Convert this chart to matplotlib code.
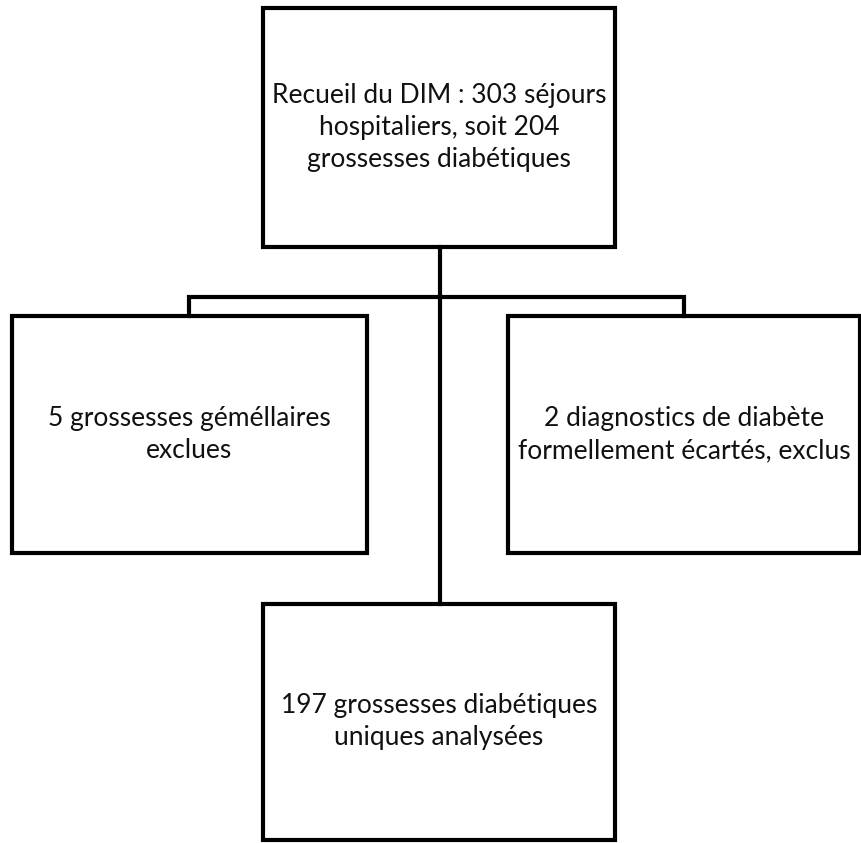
import matplotlib.pyplot as plt
from matplotlib.patches import Rectangle

# box texts
labels = [
    "Recueil du DIM : 303 séjours\nhospitaliers, soit 204\ngrossesses diabétiques",
    "5 grossesses géméllaires\nexclues",
    "2 diagnostics de diabète\nformellement écartés, exclus",
    "197 grossesses diabétiques\nuniques analysées",
]

# layout in pixels: (x0, y0, x1, y1), y measured from top
boxes = [
    (263, 8, 615, 247),
    (12, 316, 367, 553),
    (508, 316, 860, 553),
    (263, 604, 615, 840),
]

W, H = 862, 843
LW = 3.0
plt.rcParams['font.family'] = ['Lato', 'DejaVu Sans']

fig = plt.figure(figsize=(W / 100, H / 100), dpi=100)
ax = fig.add_axes([0, 0, 1, 1])
ax.set_xlim(0, W)
ax.set_ylim(H, 0)
ax.axis('off')

for (x0, y0, x1, y1), txt in zip(boxes, labels):
    ax.add_patch(Rectangle((x0, y0), x1 - x0, y1 - y0, fill=False,
                           edgecolor='black', lw=LW, joinstyle='miter'))
    ax.text((x0 + x1) / 2, (y0 + y1) / 2, txt, ha='center', va='center',
            fontsize=19, color='#111111', linespacing=1.35)

# connectors
stem_x = 440
bar_y = 297
left_x, right_x = 189, 684
ax.plot([stem_x, stem_x], [boxes[0][3], boxes[3][1]], color='black', lw=LW)
ax.plot([left_x, left_x, right_x, right_x],
        [boxes[1][1], bar_y, bar_y, boxes[2][1]], color='black', lw=LW,
        solid_joinstyle='miter')

fig.savefig('out.png', dpi=100)
